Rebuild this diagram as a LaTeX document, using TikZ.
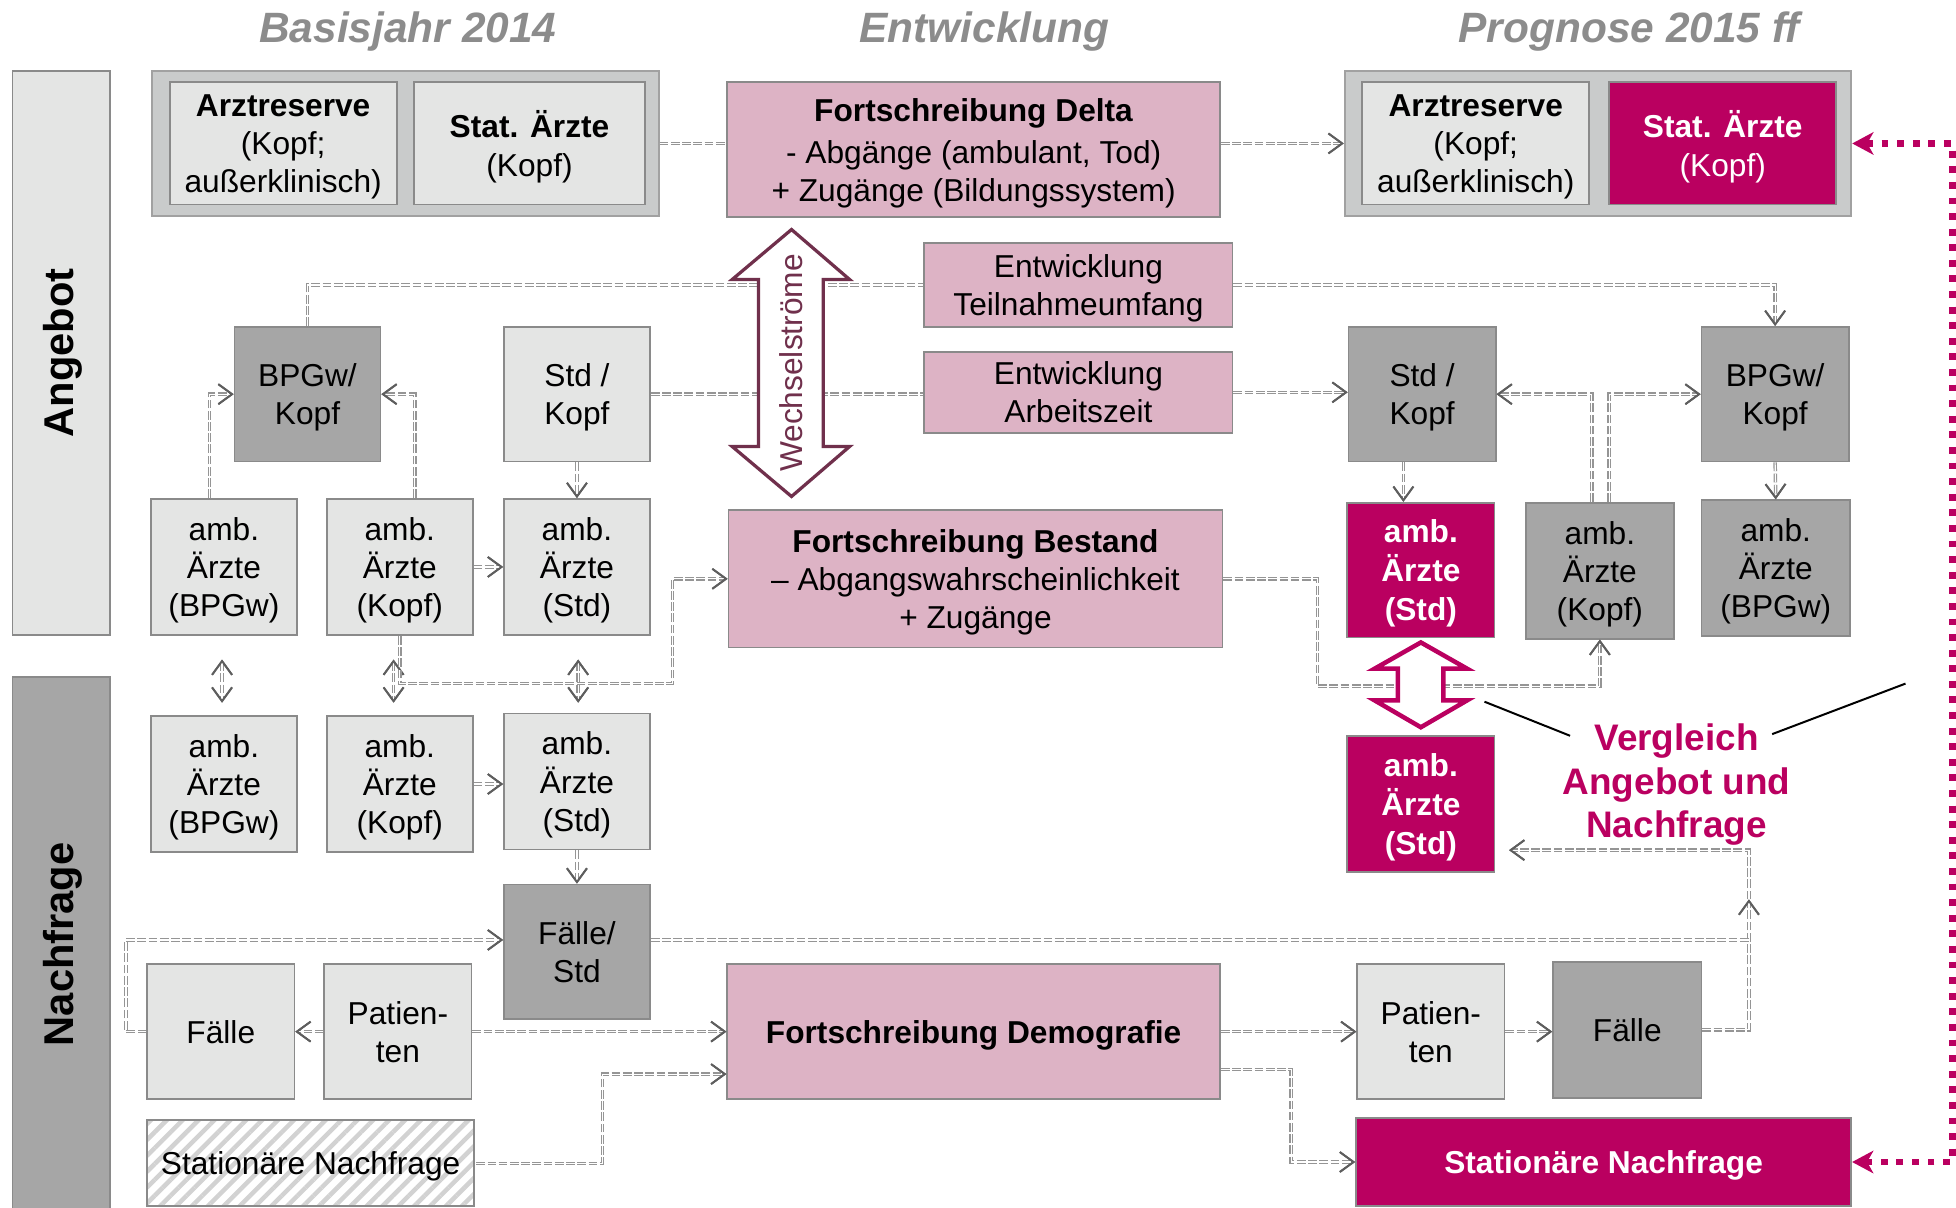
\documentclass[tikz,border=0pt]{standalone}
\usepackage{fontspec}
\setmainfont{Liberation Sans}
\usetikzlibrary{arrows.meta,calc,patterns.meta}
\definecolor{lightbg}{HTML}{E4E5E4}
\definecolor{darkbg}{HTML}{A6A6A6}
\definecolor{groupbg}{HTML}{C9CBCB}
\definecolor{pinkbg}{HTML}{DDB3C5}
\definecolor{mag}{HTML}{BA0060}
\definecolor{maroonc}{HTML}{70304C}
\definecolor{bordc}{HTML}{8A8A8A}
\definecolor{headc}{HTML}{8C8C8C}
\definecolor{connc}{HTML}{959595}
\definecolor{tipc}{HTML}{5E5E5E}
\definecolor{hatchc}{HTML}{D2D2D2}
\newcommand\mkbox[7]{\node[#6, minimum width={(#4-#2)*0.5pt}, minimum height={(#5-#3)*0.5pt}] (#1) at ({(#2+#4)/2},{(#3+#5)/2}) {#7};}
\tikzset{
  mytip/.tip={Straight Barb[length=5.5pt,width=8pt,line width=0.75pt,color=tipc]},
  magtip/.tip={Stealth[length=8.5pt,width=9pt,inset=2.5pt,color=mag]},
  txt/.style={font=\fontsize{12.7}{15.3}\selectfont},
  box/.style={draw=bordc, line width=0.7pt, align=center, inner sep=1pt, text depth=-0.8pt, txt},
  lightbox/.style={box, fill=lightbg},
  darkbox/.style={box, fill=darkbg},
  pinkbox/.style={box, fill=pinkbg},
  magbox/.style={box, fill=mag, text=white},
  magbold/.style={magbox, font=\fontsize{12.7}{15.5}\selectfont\bfseries},
  hatchbox/.style={box, preaction={fill=white}, pattern={Lines[angle=45,distance=4.5pt,line width=1.8pt]}, pattern color=hatchc},
  groupbox/.style={draw=bordc!80, fill=groupbg, line width=0.8pt},
  sidebar/.style={draw=bordc, line width=0.7pt},
  head/.style={font=\fontsize{17}{18}\selectfont\bfseries\itshape, text=headc},
  sidelabel/.style={rotate=90, font=\fontsize{16.7}{18}\selectfont\bfseries},
  conn/.style={preaction={draw=connc, line width=1.4pt, dash pattern=on 3.5pt off 1pt}, draw=white, line width=0.45pt, dash pattern=on 3.5pt off 1pt},
  arr/.style={-mytip},
  darr/.style={mytip-mytip},
  magdot/.style={draw=mag, line width=2.75pt, dash pattern=on 2.75pt off 3.5pt, magtip-magtip},
}
\begin{document}
\begin{tikzpicture}[x=0.5pt,y=-0.5pt]
\useasboundingbox (0,0) rectangle (1568,968);
\clip (0,0) rectangle (1568,968);
% headers
\node[head] (h1) at (327,25) {Basisjahr 2014};
\node[head] (h2) at (789,25) {Entwicklung};
\node[head] (h3) at (1306,25) {Prognose 2015 ff};
% side bars
\mkbox{angebot}{10}{57}{88}{509}{sidebar, fill=lightbg}{}
\mkbox{nachfrage}{10}{543}{88}{980}{sidebar, fill=darkbg}{}
\node[sidelabel] (angT) at (50,283) {Angebot};
\node[sidelabel] (nachT) at (50,757) {Nachfrage};
% top groups
\mkbox{gL}{122}{57}{528}{173}{groupbox}{}
\mkbox{arzL}{136}{66}{318}{164}{lightbox}{\textbf{Arztreserve}\\(Kopf;\\außerklinisch)}
\mkbox{statL}{332}{66}{517}{164}{lightbox}{\textbf{Stat. Ärzte}\\(Kopf)}
\mkbox{delta}{583}{66}{978}{174}{pinkbox}{\textbf{Fortschreibung Delta}\\[1.5pt]- Abgänge (ambulant, Tod)\\+ Zugänge (Bildungssystem)}
\mkbox{gR}{1078}{57}{1484}{173}{groupbox}{}
\mkbox{arzR}{1092}{66}{1274}{164}{lightbox}{\textbf{Arztreserve}\\(Kopf;\\außerklinisch)}
\mkbox{statR}{1290}{66}{1472}{164}{magbox}{\textbf{Stat. Ärzte}\\(Kopf)}
% Entwicklung boxes
\mkbox{teil}{741}{195}{988}{262}{pinkbox}{Entwicklung\\Teilnahmeumfang}
\mkbox{arb}{741}{282}{988}{347}{pinkbox}{Entwicklung\\Arbeitszeit}
% left side
\mkbox{bpgwL}{188}{262}{305}{370}{darkbox}{BPGw/\\Kopf}
\mkbox{stdkL}{404}{262}{521}{370}{lightbox}{Std /\\Kopf}
\mkbox{a1}{121}{400}{238}{509}{lightbox}{amb.\\Ärzte\\(BPGw)}
\mkbox{a2}{262}{400}{379}{509}{lightbox}{amb.\\Ärzte\\(Kopf)}
\mkbox{a3}{404}{400}{521}{509}{lightbox}{amb.\\Ärzte\\(Std)}
\mkbox{b1}{121}{574}{238}{683}{lightbox}{amb.\\Ärzte\\(BPGw)}
\mkbox{b2}{262}{574}{379}{683}{lightbox}{amb.\\Ärzte\\(Kopf)}
\mkbox{b3}{404}{572}{521}{681}{lightbox}{amb.\\Ärzte\\(Std)}
\mkbox{fstd}{404}{709}{521}{817}{darkbox}{Fälle/\\Std}
\mkbox{faelleL}{118}{773}{236}{881}{lightbox}{Fälle}
\mkbox{patL}{260}{773}{378}{881}{lightbox}{Patien-\\ten}
\mkbox{statNL}{118}{898}{380}{967}{hatchbox}{Stationäre Nachfrage}
% middle
\mkbox{bestand}{584}{409}{980}{519}{pinkbox}{\textbf{Fortschreibung Bestand}\\– Abgangswahrscheinlichkeit\\+ Zugänge}
\mkbox{demo}{583}{773}{978}{881}{pinkbox}{\textbf{Fortschreibung Demografie}}
% right side
\mkbox{stdkR}{1081}{262}{1199}{370}{darkbox}{Std /\\Kopf}
\mkbox{bpgwR}{1364}{262}{1482}{370}{darkbox}{BPGw/\\Kopf}
\mkbox{c1}{1080}{403}{1198}{511}{magbold}{amb.\\Ärzte\\(Std)}
\mkbox{c2}{1223}{403}{1342}{512}{darkbox}{amb.\\Ärzte\\(Kopf)}
\mkbox{c3}{1364}{401}{1483}{510}{darkbox}{amb.\\Ärzte\\(BPGw)}
\mkbox{d1}{1080}{590}{1198}{699}{magbold}{amb.\\Ärzte\\(Std)}
\mkbox{patR}{1088}{773}{1206}{881}{lightbox}{Patien-\\ten}
\mkbox{faelleR}{1245}{771}{1364}{880}{darkbox}{Fälle}
\mkbox{statNR}{1087}{896}{1484}{967}{magbold}{Stationäre Nachfrage}
% Vergleich
\node[font=\fontsize{14.8}{17.5}\selectfont\bfseries, text=mag, align=center, text depth=0pt] (verg) at (1344,626) {Vergleich\\Angebot und\\Nachfrage};
% helper coordinates
\coordinate (k1) at (539,548);
\coordinate (k2) at (1056,550);
\coordinate (k3) at (1402,721);
\coordinate (k4) at (1402,753.5);
\coordinate (k5) at (1402,681.5);
\coordinate (k6) at (101,753.5);
\coordinate (k7) at (483,861);
\coordinate (k8) at (1035,857.5);
\coordinate (m1) at (1565,115);
\coordinate (m2) at (1565,931.5);
\coordinate (v1) at (1190,562.5);
\coordinate (v2) at (1258.6,589.8);
\coordinate (v3) at (1420.6,588.5);
\coordinate (v4) at (1527.5,548);
% connectors
\draw[conn] (gL.east) -- (gL.east -| delta.west);
\draw[conn,arr] (delta.east |- gR.west) -- (gR.west);
\draw[conn] (bpgwL.north) |- (teil.west);
\draw[conn,arr] (teil.east) -| (bpgwR.north);
\draw[conn] (stdkL.east) -- (stdkL.east -| arb.west);
\draw[conn,arr] (arb.east) -- (arb.east -| stdkR.west);
\draw[conn,arr] ($(a1.north)+(-11.5,0)$) |- (bpgwL.west);
\draw[conn,arr] ($(a2.north)+(12,0)$) |- (bpgwL.east);
\draw[conn,arr] (stdkL.south) -- (a3.north);
\draw[conn,arr] (a2.east) -- (a3.west);
\draw[conn,darr] ($(a1.south)+(-1.5,19)$) -- ($(b1.north)+(-1.5,-10)$);
\draw[conn,darr] ($(a2.south)+(-5,19)$) -- ($(b2.north)+(-5,-10)$);
\draw[conn,darr] ($(a3.south)+(1,19)$) -- ($(b3.north)+(1,-8)$);
\draw[conn,arr] (a2.south) |- (k1) |- (bestand.west);
\draw[conn,arr] (bestand.east) -| (k2) -| (c2.south);
\draw[conn,arr] ($(stdkR.south)+(-15,0)$) -- ($(c1.north)+(-14,0)$);
\draw[conn,arr] ($(c2.north)+(-6.5,0)$) |- (stdkR.east);
\draw[conn,arr] ($(c2.north)+(7.5,0)$) |- (bpgwR.west);
\draw[conn,arr] (bpgwR.south) -- (c3.north);
\draw[conn,arr] (faelleR.east) -| (k3);
\draw[conn] (fstd.east |- k4) -- (k4);
\draw[conn,arr] (k3) -- (k5) -- ($(d1.east |- k5)+(11,0)$);
\draw[conn,arr] (faelleL.west) -| (k6) -- (k6 -| fstd.west);
\draw[conn,arr] (patL.west) -- (faelleL.east);
\draw[conn,arr] (patL.east) -- (patL.east -| demo.west);
\draw[conn,arr] (b3.south) -- (fstd.north);
\draw[conn,arr] (b2.east) -- (b2.east -| b3.west);
\draw[conn,arr] (statNL.east) -| (k7) -- (k7 -| demo.west);
\draw[conn,arr] (demo.east) -- (demo.east -| patR.west);
\draw[conn,arr] (demo.east |- k8) -- (k8) |- (statNR.west);
\draw[conn,arr] (patR.east) -- (patR.east -| faelleR.west);
% Wechselstroeme double arrow
\draw[maroonc, line width=1.3pt, fill=white, line join=miter] (634.5,184) -- (681,224) -- (660,224) -- (660,358) -- (681,358) -- (634.5,398) -- (587,358) -- (608,358) -- (608,224) -- (587,224) -- cycle;
\node[rotate=90, text=maroonc, txt] (wech) at (634,291) {Wechselströme};
% Vergleich double arrow
\draw[mag, line width=1.8pt, fill=white, line join=miter] (1139,515) -- (1176,536) -- (1157,536) -- (1157,561.5) -- (1176,561.5) -- (1139,583) -- (1102,561.5) -- (1120.5,561.5) -- (1120.5,536) -- (1102,536) -- cycle;
% pointer lines
\draw[black, line width=0.8pt] (v1) -- (v2);
\draw[black, line width=0.8pt] (v3) -- (v4);
% magenta dotted feedback
\draw[magdot] (gR.east) -- (m1) -- (m2) -- (statNR.east);
\end{tikzpicture}
\end{document}
